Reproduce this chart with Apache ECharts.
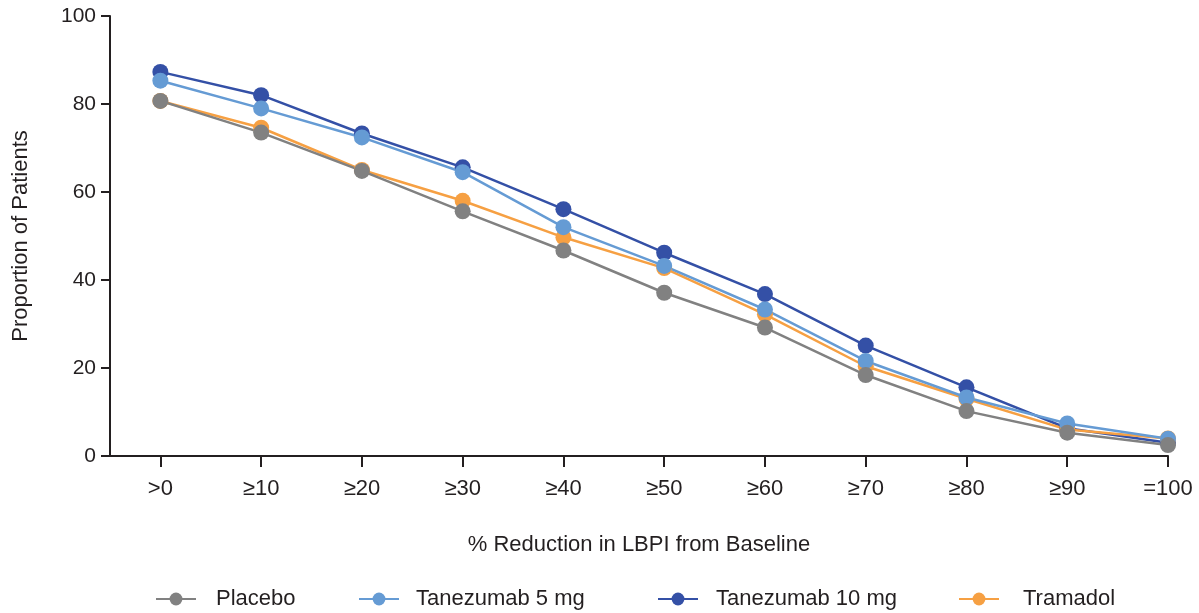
<!DOCTYPE html>
<html>
<head>
<meta charset="utf-8">
<script src="https://cdn.jsdelivr.net/npm/echarts@6/dist/echarts.min.js"></script>
<style>
  html, body { margin: 0; padding: 0; background: #fff; }
  #chart { width: 1199px; height: 613px; }
</style>
</head>
<body>
<div id="chart"></div>
<script>
// categories on the x axis
var categories = ['>0', '≥10', '≥20', '≥30', '≥40', '≥50', '≥60', '≥70', '≥80', '≥90', '=100'];

// proportion of patients (%)
var placebo    = [80.7, 73.5, 64.8, 55.6, 46.7, 37.1, 29.2, 18.4, 10.2, 5.3, 2.5];
var tanezumab5 = [85.3, 79.0, 72.4, 64.5, 52.0, 43.2, 33.3, 21.6, 13.3, 7.4, 3.9];
var tanezumab10 = [87.3, 82.0, 73.3, 65.6, 56.1, 46.2, 36.8, 25.1, 15.6, 6.3, 3.0];
var tramadol   = [80.7, 74.6, 65.0, 58.0, 49.7, 42.7, 32.2, 20.4, 13.0, 6.0, 4.0];

var yTicks = [0, 20, 40, 60, 80, 100];

var legendNames = ['Placebo', 'Tanezumab 5 mg', 'Tanezumab 10 mg', 'Tramadol'];

var font = 'Liberation Sans, Arial, sans-serif';
var axisColor = '#231f20';

// turn a series into [index, value] pairs
function pairs(arr){
    let out = [];
    for(let i = 0; i < arr.length; i++){
        out.push([i, arr[i]]);
    }
    return out;
}

function makeSeries(name, data, color){
    return {
        name: name,
        type: 'line',
        data: pairs(data),
        symbol: 'circle',
        symbolSize: 16,
        showSymbol: true,
        lineStyle: { color: color, width: 2.5 },
        itemStyle: { color: color },
        emphasis: { disabled: true }
    };
}

// one legend per entry so each can sit where it does in the original
var legendLeft = [155, 358, 657, 958];
var legendTextGap = [15, 12, 13, 19];
let legends = [];
for(let i = 0; i < legendNames.length; i++){
    legends.push({
        top: 588,
        left: legendLeft[i],
        padding: 0,
        itemWidth: 40,
        itemHeight: 16,
        data: [legendNames[i]],
        textStyle: { fontFamily: font, fontSize: 22, color: '#231f20', padding: [0, 0, 0, legendTextGap[i]] }
    });
}

var idx = [];
for(let i = 0; i < categories.length; i++){ idx.push(i); }

var chart = echarts.init(document.getElementById('chart'));
var opts = {
    animation: false,
    grid: { left: 110, right: 31, top: 16, bottom: 157, containLabel: false },
    legend: legends,
    xAxis: {
        type: 'value',
        min: -0.5,
        max: 10,
        name: '% Reduction in LBPI from Baseline',
        nameLocation: 'middle',
        nameGap: 78,
        nameTextStyle: { fontFamily: font, fontSize: 22, color: '#231f20' },
        splitLine: { show: false },
        axisLine: { show: true, onZero: false, lineStyle: { color: axisColor, width: 2 } },
        axisTick: { show: true, customValues: idx, length: 11, lineStyle: { color: axisColor, width: 2 } },
        axisLabel: {
            customValues: idx,
            margin: 22,
            fontFamily: font,
            fontSize: 22,
            color: '#231f20',
            formatter: function(v){ return categories[Math.round(v)]; }
        }
    },
    yAxis: {
        type: 'value',
        min: 0,
        max: 100,
        interval: 20,
        name: 'Proportion of Patients',
        nameLocation: 'middle',
        nameGap: 78,
        nameRotate: 90,
        nameTextStyle: { fontFamily: font, fontSize: 22, color: '#231f20' },
        splitLine: { show: false },
        axisLine: { show: true, onZero: false, lineStyle: { color: axisColor, width: 2 } },
        axisTick: { show: true, length: 9, lineStyle: { color: axisColor, width: 2 } },
        axisLabel: {
            margin: 14,
            fontFamily: font,
            fontSize: 21,
            color: '#231f20',
            formatter: function(v){ return yTicks.indexOf(v) >= 0 ? String(v) : ''; }
        }
    },
    // draw order: bottom to top
    series: [
        makeSeries('Tanezumab 10 mg', tanezumab10, '#3450a6'),
        makeSeries('Tramadol', tramadol, '#f6a043'),
        makeSeries('Tanezumab 5 mg', tanezumab5, '#659bd4'),
        makeSeries('Placebo', placebo, '#818181')
    ]
};
chart.setOption(opts);
</script>
</body>
</html>
